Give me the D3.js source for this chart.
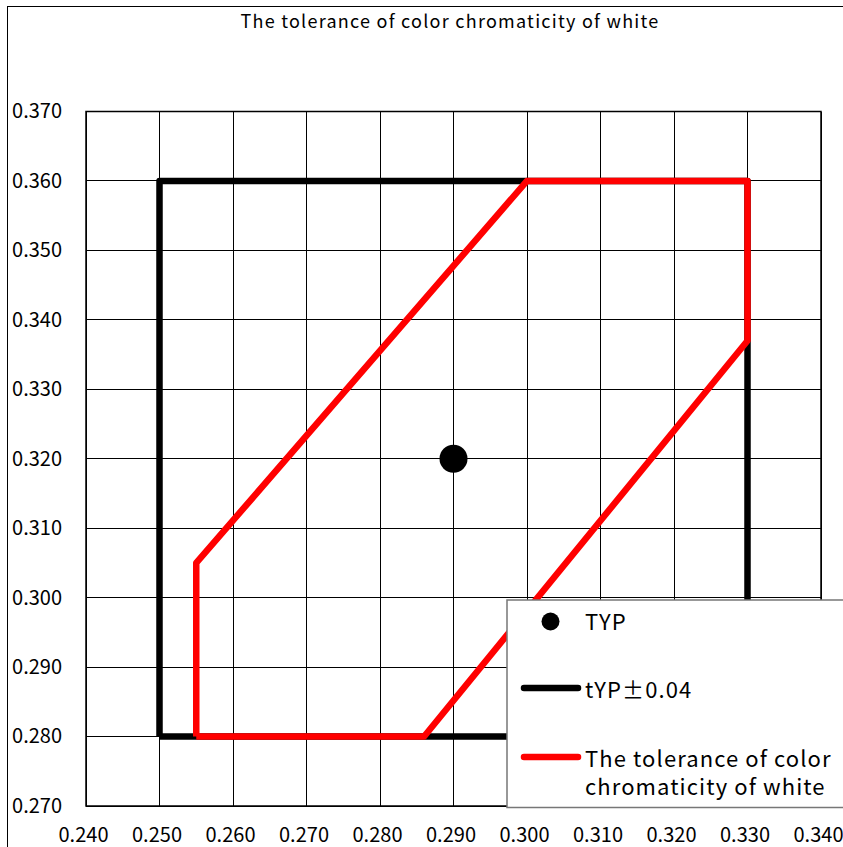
<!DOCTYPE html>
<html>
<head>
<meta charset="utf-8">
<script src="https://cdn.jsdelivr.net/npm/d3@7"></script>
<style>
  html, body { margin: 0; padding: 0; background: #fff; }
  svg { display: block; }
  text { font-family: "Noto Sans CJK JP", "DejaVu Sans", sans-serif; fill: #000; }
</style>
</head>
<body>
<div id="chart"></div>
<script>
// axis ticks
const xTicks = [0.24, 0.25, 0.26, 0.27, 0.28, 0.29, 0.30, 0.31, 0.32, 0.33, 0.34];
const yTicks = [0.27, 0.28, 0.29, 0.30, 0.31, 0.32, 0.33, 0.34, 0.35, 0.36, 0.37];

// series
const typX = [0.290];
const typY = [0.320];
const boxX = [0.250, 0.330, 0.330, 0.250, 0.250];
const boxY = [0.280, 0.280, 0.360, 0.360, 0.280];
const tolX = [0.255, 0.255, 0.300, 0.330, 0.330, 0.286, 0.255];
const tolY = [0.280, 0.305, 0.360, 0.360, 0.337, 0.280, 0.280];

const titleText = "The tolerance of color chromaticity of white";
const legendLabels = ["TYP", "tYP\u00b10.04", ["The tolerance of color", "chromaticity of white"]];

const width = 843, height = 847;
const plot = { left: 86, right: 821, top: 111.5, bottom: 806 };

const svg = d3.select("#chart").append("svg")
    .attr("width", width)
    .attr("height", height);

// outer chart frame
svg.append("rect")
    .attr("x", 7.5).attr("y", 6.5)
    .attr("width", width + 10).attr("height", height + 10)
    .attr("fill", "#fff")
    .attr("stroke", "#000");

svg.append("text")
    .attr("x", 450).attr("y", 28)
    .attr("text-anchor", "middle")
    .attr("font-size", 18)
    .attr("letter-spacing", 1.25)
    .text(titleText);

const x = d3.scaleLinear().domain([0.24, 0.34]).range([plot.left, plot.right]);
const y = d3.scaleLinear().domain([0.27, 0.37]).range([plot.bottom, plot.top]);

// grid
const grid = svg.append("g").attr("stroke", "#000").attr("stroke-width", 1).attr("shape-rendering", "crispEdges");
grid.selectAll("line.v").data(xTicks).enter().append("line")
    .attr("x1", d => x(d)).attr("x2", d => x(d))
    .attr("y1", plot.top).attr("y2", plot.bottom);
grid.selectAll("line.h").data(yTicks).enter().append("line")
    .attr("y1", d => y(d)).attr("y2", d => y(d))
    .attr("x1", plot.left).attr("x2", plot.right);
svg.append("rect")
    .attr("x", plot.left).attr("y", plot.top)
    .attr("width", plot.right - plot.left).attr("height", plot.bottom - plot.top)
    .attr("fill", "none").attr("stroke", "#000").attr("stroke-width", 1.5);

// axis labels
const fmt = d3.format(".3f");
const xAxis = d3.axisBottom(x).tickValues(xTicks).tickFormat(fmt).tickSize(0).tickPadding(0);
const gx = svg.append("g").attr("transform", `translate(-3,${plot.bottom + 22})`).call(xAxis);
gx.select(".domain").remove();
gx.selectAll("text").attr("font-size", 20).attr("font-family", "Noto Sans CJK JP, sans-serif");

const yAxis = d3.axisLeft(y).tickValues(yTicks).tickFormat(fmt).tickSize(0).tickPadding(0);
const gy = svg.append("g").attr("transform", `translate(62,0)`).call(yAxis);
gy.select(".domain").remove();
gy.selectAll("text").attr("font-size", 20).attr("font-family", "Noto Sans CJK JP, sans-serif");

// series
const line = d3.line().x(d => x(d[0])).y(d => y(d[1]));
svg.append("path")
    .datum(d3.zip(boxX, boxY))
    .attr("d", line)
    .attr("fill", "none").attr("stroke", "#000").attr("stroke-width", 6.5)
    .attr("stroke-linejoin", "round");
svg.append("path")
    .datum(d3.zip(tolX, tolY))
    .attr("d", line)
    .attr("fill", "none").attr("stroke", "#ff0000").attr("stroke-width", 6.5)
    .attr("stroke-linejoin", "round");
svg.selectAll("circle.typ").data(d3.zip(typX, typY)).enter().append("circle")
    .attr("cx", d => x(d[0])).attr("cy", d => y(d[1]))
    .attr("r", 14).attr("fill", "#000");

// legend
const lg = svg.append("g").attr("font-size", 22).attr("letter-spacing", 1.1);
lg.append("rect")
    .attr("x", 507).attr("y", 600)
    .attr("width", 400).attr("height", 207.5)
    .attr("fill", "#fff").attr("stroke", "#777").attr("stroke-width", 1.5);
lg.append("circle").attr("cx", 550.5).attr("cy", 621.5).attr("r", 9).attr("fill", "#000");
lg.append("text").attr("x", 585).attr("y", 629.5).text(legendLabels[0]);
lg.append("line").attr("x1", 524).attr("x2", 578).attr("y1", 688).attr("y2", 688)
    .attr("stroke", "#000").attr("stroke-width", 6.5).attr("stroke-linecap", "round");
lg.append("text").attr("x", 585).attr("y", 698).text(legendLabels[1]);
lg.append("line").attr("x1", 524).attr("x2", 578).attr("y1", 757).attr("y2", 757)
    .attr("stroke", "#ff0000").attr("stroke-width", 6.5).attr("stroke-linecap", "round");
lg.append("text").attr("x", 585).attr("y", 767).text(legendLabels[2][0]);
lg.append("text").attr("x", 585).attr("y", 795).text(legendLabels[2][1]);
</script>
</body>
</html>
